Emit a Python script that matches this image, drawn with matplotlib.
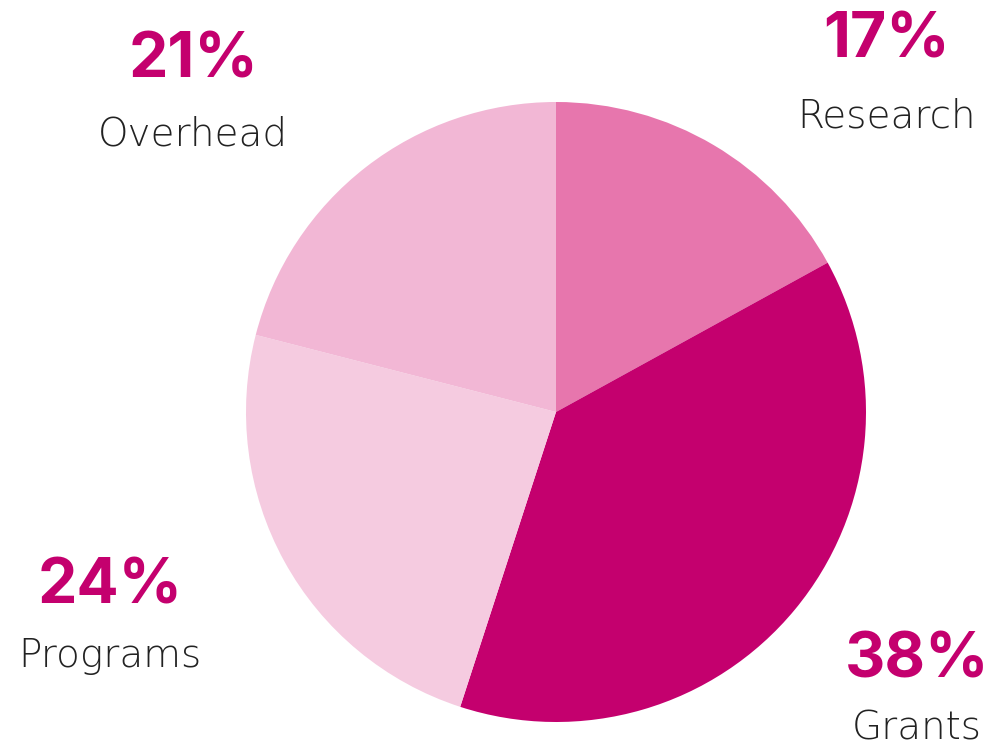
import matplotlib.pyplot as plt

labels = ['Research', 'Grants', 'Programs', 'Overhead']
shares = [17, 38, 24, 21]
colors = ['#E776AD', '#C4006E', '#F5CBE0', '#F2B7D5']

# label anchors in pixel coords (x centre, baseline of % and of name)
label_x = [886, 917, 110, 193]
pct_base = [58, 677, 603, 78]
name_base = [127, 740, 667, 146]

W, H = 992, 749
fig = plt.figure(figsize=(W / 100, H / 100), dpi=100)
ax = fig.add_axes([0, 0, 1, 1])

ax.pie(shares, colors=colors, startangle=90, counterclock=False,
       center=(556, H - 412), radius=310, frame=True,
       wedgeprops={'linewidth': 0})
ax.set_xlim(0, W)
ax.set_ylim(0, H)
ax.set_aspect('equal')
ax.axis('off')

for lab, s, x, pb, nb in zip(labels, shares, label_x, pct_base, name_base):
    ax.text(x, H - pb, str(s) + '%', ha='center', va='baseline',
            fontsize=45, fontweight='bold', family='Inter', color='#C4006E')
    ax.text(x, H - nb, lab, ha='center', va='baseline',
            fontsize=28, fontweight='light', family='DejaVu Sans', color='#222222')

fig.savefig('out.png', dpi=100)
